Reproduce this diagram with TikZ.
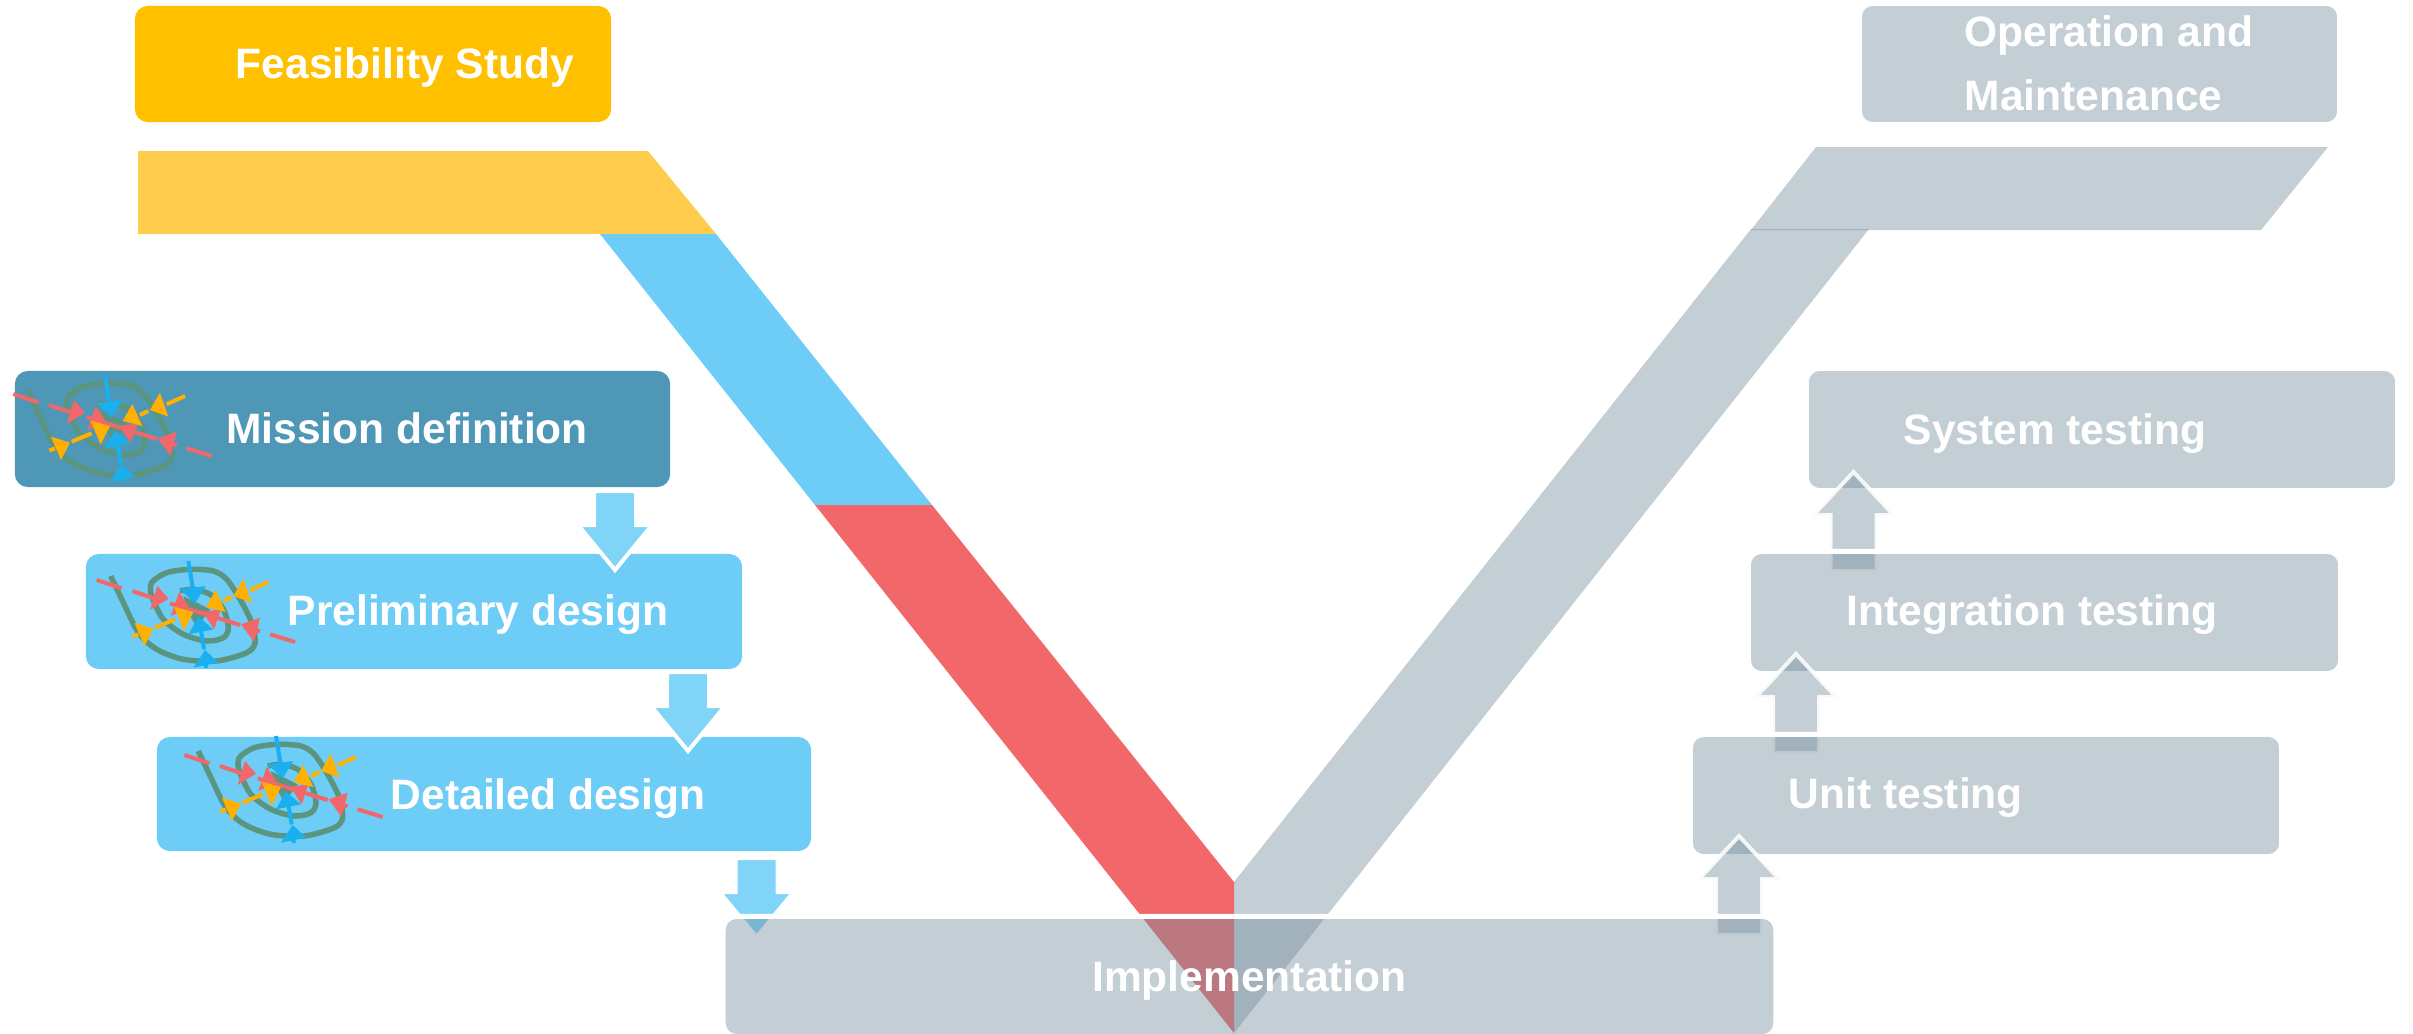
\documentclass[tikz,border=0pt]{standalone}
\usepackage{fontspec}
\setmainfont{Liberation Sans}
\usetikzlibrary{positioning,calc}
\definecolor{FeasibilityGold}{HTML}{FFC000}
\definecolor{BandGold}{HTML}{FFCC4D}
\definecolor{SkyBlue}{HTML}{6DCDF7}
\definecolor{ArrowBlue}{HTML}{7FD4F8}
\definecolor{DeepBlue}{HTML}{4F97B6}
\definecolor{BandRed}{HTML}{F2686A}
\definecolor{SlateGrey}{HTML}{748E9E}
\definecolor{SpiralGreen}{HTML}{5B9580}
\definecolor{IconBlue}{HTML}{1AB0F0}
\definecolor{IconOrange}{HTML}{FFB000}
\def\CornerRadius{0.13cm}
\tikzset{
  x=0.01cm,y=-0.01cm,
  phasebox/.style={
    rectangle,
    rounded corners=\CornerRadius,
    inner sep=0pt,
    outer sep=0pt
  },
  donebox/.style={phasebox,fill=SkyBlue},
  greybox/.style={
    phasebox,
    fill=SlateGrey,
    fill opacity=0.43,
    draw=white,
    line width=0.05cm
  },
  phaselabel/.style={
    anchor=base,
    inner sep=0pt,
    text=white,
    font=\bfseries\fontsize{12.1pt}{18.2pt}\selectfont
  },
  greyband/.style={fill=SlateGrey,fill opacity=0.43},
  uparrow/.pic={
    \path[fill=SlateGrey,fill opacity=0.43,draw=white,draw opacity=0.85,line width=0.04cm,line join=miter]
      (-23,58) -- (-23,2) -- (-40,2) -- (0,-41) -- (40,2) -- (23,2) -- (23,58) -- cycle;
  },
  downarrow/.pic={
    \path[fill=ArrowBlue,draw=white,line width=0.04cm,line join=miter]
      (-21,-36) -- (-21,-2) -- (-37,-2) -- (0,43) -- (37,-2) -- (21,-2) -- (21,-36) -- cycle;
  },
  spiral/.pic={
    \draw[SpiralGreen,line width=0.055cm] plot[smooth] coordinates {
      (82,90) (120,170) (165,260) (220,310) (300,340) (400,345) (490,320) (515,290)
      (505,230) (470,160) (430,100) (390,75) (320,70) (250,80) (205,110) (205,150)
      (240,220) (300,265) (370,285) (420,275) (435,245) (420,190) (380,145) (330,130) (290,135)};
    \fill[SpiralGreen] (300,150) -- (380,190) -- (340,245) -- (310,190) -- cycle;
    % Red pair along the dashed line.
    \draw[BandRed,line width=0.04cm] (40,102) -- (115,127) (147,135) -- (215,158)
      (260,172) -- (470,237) (520,253) -- (530,256) (560,265) -- (635,288);
    \fill[BandRed] (200,192) -- (255,158) -- (222,120) -- cycle;
    \fill[BandRed] (262,210) -- (318,185) -- (287,138) -- cycle;
    \fill[BandRed] (358,197) -- (412,190) -- (392,250) -- cycle;
    \fill[BandRed] (473,235) -- (530,215) -- (512,288) -- cycle;
    % Blue pair from above and below.
    \draw[IconBlue,line width=0.04cm] (315,45) -- (328,125) (362,310) -- (352,250) (368,350) -- (368,366);
    \fill[IconBlue] (290,130) -- (367,120) -- (335,172) -- cycle;
    \fill[IconBlue] (315,265) -- (390,250) -- (345,212) -- cycle;
    \fill[IconBlue] (330,365) -- (405,350) -- (365,312) -- cycle;
    % Orange pair from the sides.
    \draw[IconOrange,line width=0.04cm] (555,108) -- (500,133) (445,153) -- (420,165)
      (215,245) -- (275,220) (148,272) -- (165,265);
    \fill[IconOrange] (450,150) -- (480,98) -- (505,170) -- cycle;
    \fill[IconOrange] (368,183) -- (397,132) -- (427,198) -- cycle;
    \fill[IconOrange] (330,198) -- (272,182) -- (302,254) -- cycle;
    \fill[IconOrange] (210,248) -- (153,230) -- (183,300) -- cycle;
  }
}

\begin{document}
\begin{tikzpicture}
  \useasboundingbox (0,0) rectangle (2413,1033);

  % Left leg of the V.
  \fill[BandGold] (138,151) -- (648,151) -- (716,234) -- (138,234) -- cycle;
  \fill[SkyBlue] (600,234) -- (716,234) -- (932,505) -- (815,505) -- cycle;
  \fill[BandRed] (815,505) -- (932,505) -- (1234,882) -- (1234,1033) -- cycle;

  % Right leg of the V.
  \fill[greyband] (1816,147) -- (2328,147) -- (2261,230) -- (1751,230) -- cycle;
  \fill[greyband] (1751,229) -- (1869,229) -- (1234,1033) -- (1234,882) -- cycle;

  \node[phasebox,fill=FeasibilityGold,minimum width=4.76cm,minimum height=1.16cm] (feasibility) at (373,64) {};
  \node[phaselabel] (feasibilitylabel) at ([xshift=0.32cm,yshift=-0.14cm]feasibility.center) {Feasibility Study};

  \node[greybox,minimum width=4.80cm,minimum height=1.21cm] (operation) at (2099.5,64) {};
  \node[phaselabel,anchor=west,align=left] (operationlabel) at ([xshift=-1.355cm,yshift=0.005cm]operation.center) {Operation and\\Maintenance};

  \node[phasebox,fill=DeepBlue,minimum width=6.55cm,minimum height=1.16cm] (mission) at (342.5,429) {};
  \node[phaselabel] (missionlabel) at ([xshift=0.645cm,yshift=-0.14cm]mission.center) {Mission definition};
  \pic at (0,360) [scale=0.3333] {spiral};

  \node[donebox,minimum width=6.56cm,minimum height=1.15cm] (preliminary) at (414,611.5) {};
  \node[phaselabel] (preliminarylabel) at ([xshift=0.64cm,yshift=-0.135cm]preliminary.center) {Preliminary design};
  \pic at (83.4,546) [scale=0.3333] {spiral};
  \pic at (615,527) {downarrow};

  \node[donebox,minimum width=6.54cm,minimum height=1.14cm] (detailed) at (484,794) {};
  \node[phaselabel] (detailedlabel) at ([xshift=0.64cm,yshift=-0.15cm]detailed.center) {Detailed design};
  \pic at (171,721) [scale=0.3333] {spiral};
  \pic at (688,708) {downarrow};
  \pic at (756.5,894) {downarrow};

  \node[greybox,minimum width=5.91cm,minimum height=1.22cm] (system) at (2102,429.5) {};
  \node[phaselabel] (systemlabel) at ([xshift=-0.47cm,yshift=-0.145cm]system.center) {System testing};
  \pic at (1853.5,513) {uparrow};

  \node[greybox,minimum width=5.92cm,minimum height=1.22cm] (integration) at (2044.5,612.5) {};
  \node[phaselabel] (integrationlabel) at ([xshift=-0.125cm,yshift=-0.125cm]integration.center) {Integration testing};
  \pic at (1796,695) {uparrow};

  \node[greybox,minimum width=5.91cm,minimum height=1.22cm] (unit) at (1986,795.5) {};
  \node[phaselabel] (unitlabel) at ([xshift=-0.80cm,yshift=-0.125cm]unit.center) {Unit testing};
  \pic at (1739,877) {uparrow};

  \node[greybox,minimum width=10.52cm,minimum height=1.20cm] (implementation) at (1249.5,976.5) {};
  \node[phaselabel] (implementationlabel) at ([yshift=-0.145cm]implementation.center) {Implementation};
\end{tikzpicture}
\end{document}
